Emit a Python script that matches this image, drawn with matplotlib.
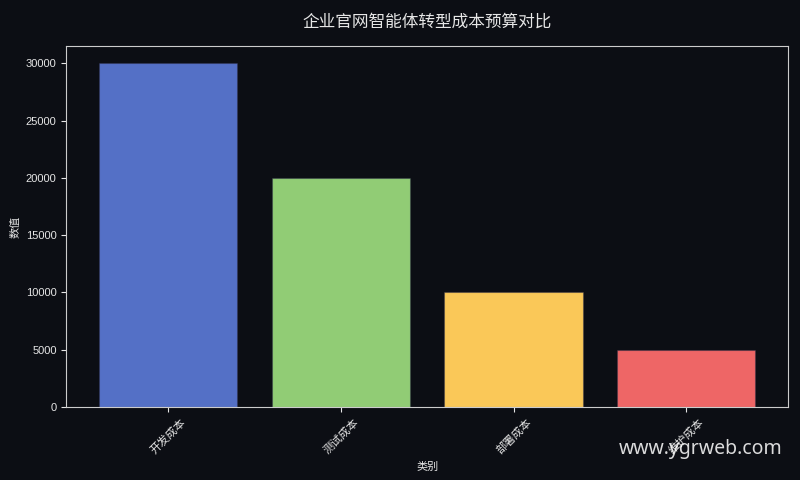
import matplotlib
matplotlib.use("Agg")
import matplotlib.pyplot as plt

plt.rcParams['font.family'] = ['Liberation Sans', 'Noto Sans CJK SC', 'DejaVu Sans']

categories = ["开发成本", "测试成本", "部署成本", "维护成本"]
values = [30000, 20000, 10000, 5000]
colors = ["#5470c6", "#91cc75", "#fac858", "#ee6666"]

bg = "#0c0e14"
fg = "#e6e6e6"

fig, ax = plt.subplots(figsize=(8, 4.8), dpi=100)
fig.patch.set_facecolor(bg)
ax.set_facecolor(bg)

ax.bar(categories, values, color=colors, width=0.8, edgecolor=(0.2, 0.2, 0.3, 0.4), linewidth=0.8)

ax.set_title("企业官网智能体转型成本预算对比", color=fg, fontsize=12, pad=14)
ax.set_xlabel("类别", color=fg, fontsize=8)
ax.set_ylabel("数值", color=fg, fontsize=8)
ax.tick_params(colors=fg, labelsize=8)
plt.setp(ax.get_xticklabels(), rotation=45)
for s in ax.spines.values():
    s.set_color("#cccccc")

fig.subplots_adjust(left=0.083, right=0.985, top=0.904, bottom=0.152)
fig.text(0.876, 0.064, "www.ygrweb.com", color="white", alpha=0.85, fontsize=14,
         ha="center", va="center", family=["Noto Sans", "DejaVu Sans"])

fig.savefig("out.png", facecolor=bg)
